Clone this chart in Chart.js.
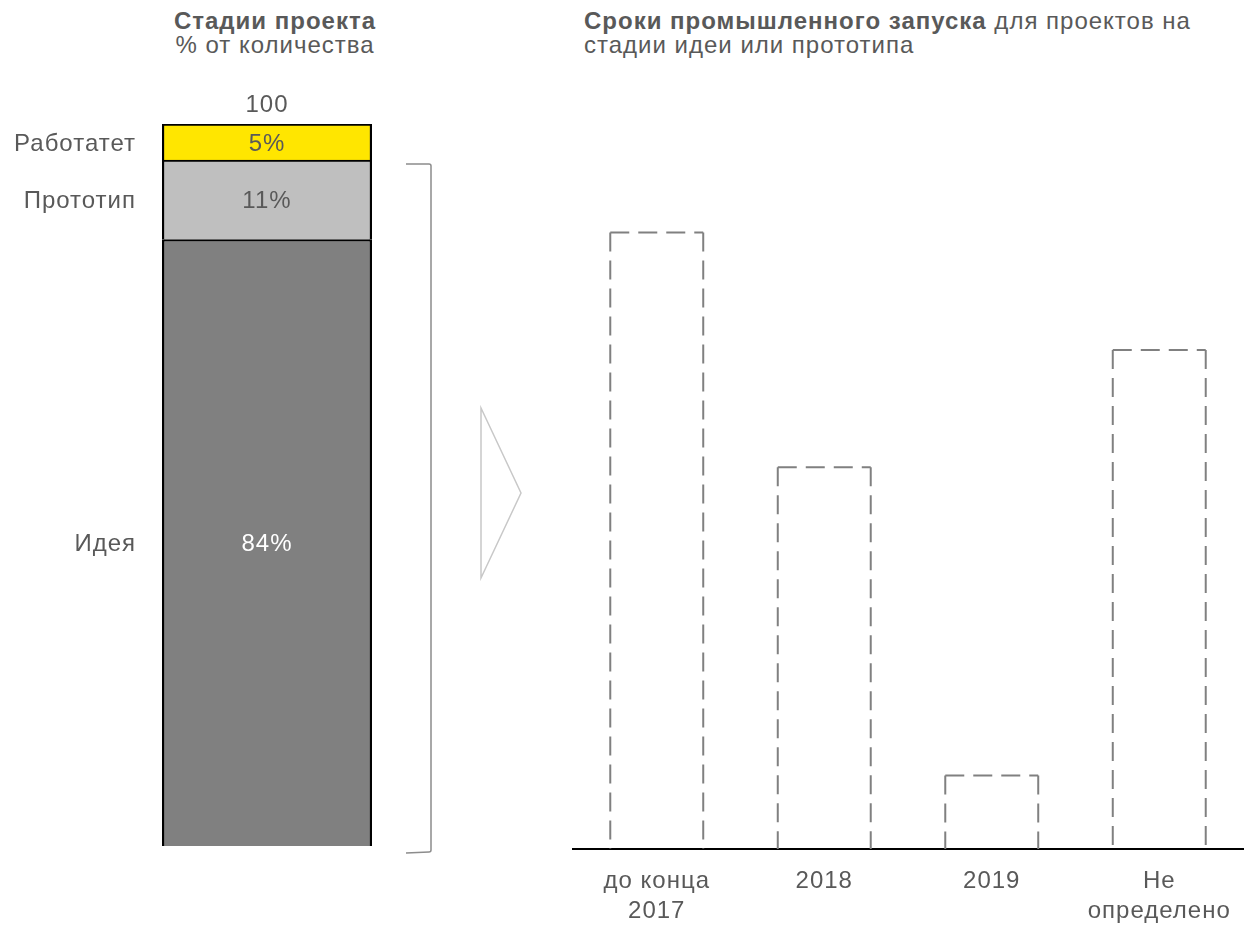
<!DOCTYPE html>
<html lang="ru">
<head>
<meta charset="utf-8">
<script src="https://cdn.jsdelivr.net/npm/chart.js@4"></script>
<style>
  html, body { margin: 0; padding: 0; background: #fff; }
  body { width: 1248px; height: 927px; position: relative; overflow: hidden;
         font-family: "Liberation Sans", Arial, sans-serif; color: #595959; }
  canvas { position: absolute; left: 0; top: 0; }
  .title { position: absolute; font-size: 24px; line-height: 24px; letter-spacing: 1px; }
  .title b { font-weight: bold; }
  #leftTitle { left: 120px; width: 310px; top: 9px; text-align: center; }
  #rightTitle { left: 584px; top: 9px; width: 664px; }
</style>
</head>
<body>
<div class="title" id="leftTitle"><b>Стадии проекта</b><br>% от количества</div>
<div class="title" id="rightTitle"><b>Сроки промышленного запуска</b> для проектов на<br>стадии идеи или прототипа</div>
<canvas id="stages" width="1248" height="927"></canvas>
<canvas id="launch" width="1248" height="927"></canvas>
<script>
// project stages, % of count (bottom to top)
const stageNames = ["Идея", "Прототип", "Работатет"];
const stageShares = [84, 11, 5];
const stageColors = ["#808080", "#bfbfbf", "#ffe600"];
const stageLabelColors = ["#ffffff", "#595959", "#595959"];

// launch timing for idea / prototype projects
const launchLabels = [["до конца", "2017"], "2018", "2019", ["Не", "определено"]];
const launchValues = [42, 26, 5, 34];

const FONT = "Liberation Sans, Arial, sans-serif";
const TEXT = "#595959";

const stagesLabels = {
  id: "stagesLabels",
  afterDatasetsDraw(chart) {
    const ctx = chart.ctx;
    const y = chart.scales.y;
    const area = chart.chartArea;
    const cx = (area.left + area.right) / 2;
    ctx.save();
    ctx.font = "24px " + FONT;
    ctx.letterSpacing = "1px";
    ctx.textBaseline = "middle";
    let acc = 0;
    stageShares.forEach((v, i) => {
      const top = y.getPixelForValue(acc + v);
      const bot = y.getPixelForValue(acc);
      const mid = (top + bot) / 2 + 2;
      ctx.textAlign = "center";
      ctx.fillStyle = stageLabelColors[i];
      ctx.fillText(v + "%", cx, mid);
      ctx.textAlign = "right";
      ctx.fillStyle = TEXT;
      ctx.fillText(stageNames[i], area.left - 26, mid);
      acc += v;
    });
    // total above the column
    ctx.textAlign = "center";
    ctx.fillStyle = TEXT;
    ctx.fillText(String(acc), cx, area.top - 19);

    // bracket around idea + prototype
    const bTop = y.getPixelForValue(stageShares[0] + stageShares[1]) + 4;
    const bBot = area.bottom + 6;
    const bx = area.right + 59;
    ctx.strokeStyle = "#8c8c8c";
    ctx.lineWidth = 1.5;
    ctx.beginPath();
    ctx.moveTo(bx - 25, bTop);
    ctx.lineTo(bx - 2, bTop);
    ctx.quadraticCurveTo(bx, bTop, bx, bTop + 2);
    ctx.lineTo(bx, bBot - 2);
    ctx.quadraticCurveTo(bx, bBot, bx - 2, bBot);
    ctx.lineTo(bx - 25, bBot + 1);
    ctx.stroke();

    // arrow towards the right chart
    ctx.strokeStyle = "#c8c8c8";
    ctx.lineWidth = 1.5;
    ctx.beginPath();
    ctx.moveTo(481, 408);
    ctx.lineTo(521, 493);
    ctx.lineTo(481, 578);
    ctx.closePath();
    ctx.stroke();
    ctx.restore();
  }
};

new Chart(document.getElementById("stages"), {
  type: "bar",
  data: {
    labels: [""],
    datasets: stageShares.map((v, i) => ({
      label: stageNames[i],
      data: [v],
      backgroundColor: stageColors[i],
      borderColor: "#000000",
      borderWidth: { top: 2, left: 2.5, right: 2.5, bottom: 0 },
      borderSkipped: false,
      barPercentage: 1,
      categoryPercentage: 1
    }))
  },
  options: {
    responsive: false,
    animation: false,
    layout: { padding: { left: 162, right: 1248 - 372, top: 124, bottom: 927 - 846 } },
    plugins: { legend: { display: false }, tooltip: { enabled: false } },
    scales: {
      x: { stacked: true, display: false },
      y: { stacked: true, display: false, min: 0, max: 100 }
    }
  },
  plugins: [stagesLabels]
});

// bar outlines drawn dashed on the bar geometry (no bottom edge)
const dashedBars = {
  id: "dashedBars",
  beforeDraw(chart) {
    chart.ctx.letterSpacing = "1px";
  },
  afterDatasetsDraw(chart) {
    const ctx = chart.ctx;
    const meta = chart.getDatasetMeta(0);
    ctx.save();
    ctx.strokeStyle = "#808080";
    ctx.lineWidth = 2;
    ctx.setLineDash([19, 9]);
    meta.data.forEach(bar => {
      const l = bar.x - bar.width / 2, r = bar.x + bar.width / 2;
      const t = bar.y, b = bar.base;
      [[l, t, l, b], [l, t, r, t], [r, t, r, b]].forEach(s => {
        ctx.beginPath();
        ctx.moveTo(s[0], s[1]);
        ctx.lineTo(s[2], s[3]);
        ctx.stroke();
      });
    });
    ctx.restore();
  }
};

new Chart(document.getElementById("launch"), {
  type: "bar",
  data: {
    labels: launchLabels,
    datasets: [{
      data: launchValues,
      backgroundColor: "rgba(0,0,0,0)",
      borderWidth: 0,
      barPercentage: 0.555,
      categoryPercentage: 1
    }]
  },
  options: {
    responsive: false,
    animation: false,
    layout: { padding: { left: 573, right: 5, top: 115, bottom: 0 } },
    plugins: { legend: { display: false }, tooltip: { enabled: false } },
    scales: {
      x: {
        grid: { display: false, drawTicks: false },
        border: { display: true, color: "#000000", width: 2 },
        ticks: { color: TEXT, font: { family: FONT, size: 24, lineHeight: 1.22 }, padding: 18, maxRotation: 0 },
        afterFit(scale) { scale.height = 927 - 849; }
      },
      y: { display: false, min: 0, max: 50 }
    }
  },
  plugins: [dashedBars]
});
</script>
</body>
</html>
